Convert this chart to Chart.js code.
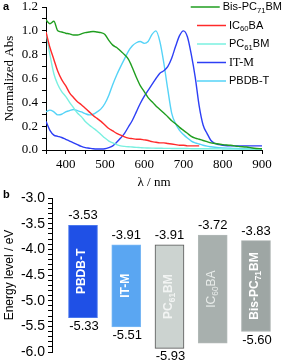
<!DOCTYPE html>
<html>
<head>
<meta charset="utf-8">
<script src="https://cdn.jsdelivr.net/npm/chart.js@4.4.1/dist/chart.umd.min.js"></script>
<style>
  body { margin: 0; width: 283px; height: 360px; background: #fff; position: relative; overflow: hidden; }
  #topo { position: absolute; left: 0; top: 0; width: 283px; height: 190px; }
  #base { position: absolute; left: 0; top: 190px; width: 283px; height: 170px; }
  .painel { position: absolute; font: bold 11px "Liberation Sans", Arial, sans-serif; color: #000; }
</style>
</head>
<body>
<div id="topo"><canvas id="espectros" width="283" height="190"></canvas></div>
<div id="base"><canvas id="niveis" width="283" height="170"></canvas></div>
<div class="painel" style="left:3px;top:0px">a</div>
<div class="painel" style="left:3px;top:188px">b</div>
<script>
// Painel a: absorção normalizada
const comprimentos = [350, 360, 370, 380, 390, 400, 410, 420, 430, 440, 450, 460, 470, 480, 490, 500,
    510, 520, 530, 540, 550, 560, 570, 580, 590, 600, 610, 620, 630, 640, 650, 660, 670, 680, 690, 700,
    710, 720, 730, 740, 750, 760, 770, 780, 790, 800, 820, 840, 860, 880, 900];

const bisPC71BM = [1.09, 1.06, 1.08, 1.00, 0.99, 0.98, 0.975, 0.965, 0.965, 0.975, 0.985, 0.99, 0.995, 0.99, 0.985, 0.97,
    0.92, 0.88, 0.86, 0.83, 0.80, 0.76, 0.69, 0.61, 0.54, 0.49, 0.44, 0.405, 0.37, 0.34, 0.31, 0.28, 0.245, 0.22, 0.19, 0.165,
    0.14, 0.115, 0.10, 0.09, 0.08, 0.07, 0.06, 0.055, 0.05, 0.045, 0.04, 0.03, 0.025, 0.015, 0.01];

const ic60ba = [0.99, 0.86, 0.76, 0.66, 0.59, 0.54, 0.48, 0.44, 0.405, 0.38, 0.35, 0.32, 0.29, 0.265, 0.24, 0.21,
    0.18, 0.16, 0.14, 0.125, 0.11, 0.10, 0.095, 0.09, 0.09, 0.085, 0.08, 0.07, 0.065, 0.06, 0.06, 0.055, 0.05, 0.045, 0.04, 0.04,
    0.035, 0.035, 0.035, 0.035, null, null, null, null, null, null, null, null, null, null, null];

const pc61bm = [0.99, 0.80, 0.64, 0.55, 0.49, 0.45, 0.40, 0.355, 0.31, 0.28, 0.24, 0.21, 0.185, 0.16, 0.13, 0.10,
    0.075, 0.06, 0.045, 0.035, 0.03, 0.027, 0.025, 0.022, 0.02, 0.018, 0.017, 0.016, 0.015, 0.015, 0.014, 0.014, 0.013, 0.013, 0.012, 0.012,
    0.012, 0.011, 0.011, 0.011, 0.01, 0.01, 0.01, 0.01, 0.01, 0.009, 0.008, 0.007, 0.006, 0.005, 0.004];

const itm = [0.24, 0.165, 0.125, 0.115, 0.105, 0.09, 0.075, 0.06, 0.045, 0.03, 0.02, 0.015, 0.01, 0.008, 0.008, 0.01,
    0.02, 0.035, 0.065, 0.10, 0.14, 0.195, 0.25, 0.32, 0.39, 0.45, 0.50, 0.55, 0.60, 0.645, 0.665, 0.70, 0.77, 0.87, 0.96, 1.0,
    0.95, 0.80, 0.61, 0.37, 0.21, 0.14, 0.08, 0.055, 0.045, 0.04, 0.035, 0.035, 0.035, 0.035, 0.035];

const pbdbt = [0.32, 0.335, 0.32, 0.295, 0.30, 0.32, 0.33, 0.34, 0.33, 0.32, 0.305, 0.295, 0.30, 0.32, 0.345, 0.39,
    0.46, 0.55, 0.63, 0.70, 0.765, 0.83, 0.875, 0.90, 0.91, 0.895, 0.91, 0.97, 1.0, 0.91, 0.73, 0.51, 0.31, 0.22, 0.165, 0.13,
    0.10, 0.075, 0.06, 0.05, 0.04, 0.032, 0.027, 0.023, 0.02, 0.018, 0.015, 0.012, 0.01, 0.008, 0.007];

const nomesSeries = ['Bis-PC_{71}BM', 'IC_{60}BA', 'PC_{61}BM', 'IT-M', 'PBDB-T'];
const valoresSeries = [bisPC71BM, ic60ba, pc61bm, itm, pbdbt];
const coresSeries = ['#1f9e1f', '#ff2a2a', '#7af0e0', '#2d3ff5', '#55d3f7'];

// Painel b: níveis de energia
const materiais = ['PBDB-T', 'IT-M', 'PC_{61}BM', 'IC_{60}BA', 'Bis-PC_{71}BM'];
const lumo = [-3.53, -3.91, -3.91, -3.72, -3.83];
const homo = [-5.33, -5.51, -5.93, -5.83, -5.60];
const homoVisivel = [true, true, true, false, true];

const coresBarras = ['#1f50e6', '#5aa6f2', '#ccd3d0', '#a8b0ae', '#9ea6a4'];
const bordasBarras = ['#4a78ee', '#7ab8f5', '#555555', '#b2b9b7', '#a9b0ae'];
const coresNomes = ['#ffffff', '#ffffff', '#f2f4f3', '#e8ecea', '#ffffff'];
const pesosNomes = ['bold', 'bold', 'bold', 'normal', 'bold'];

const SANS = '"Liberation Sans", Arial, sans-serif';
const SERIF = '"Liberation Serif", "Times New Roman", serif';

Chart.defaults.color = '#000';
Chart.defaults.font.family = SANS;

// texto com subscritos: PC_{61}BM
function medirTexto(ctx, texto, tam, familia, peso) {
    const partes = texto.split(/_\{(\d+)\}/);
    let w = 0;
    partes.forEach((p, i) => {
        ctx.font = `${peso} ${i % 2 ? tam * 0.7 : tam}px ${familia}`;
        w += ctx.measureText(p).width;
    });
    return w;
}

function desenharTexto(ctx, texto, x, y, tam, familia, peso) {
    const partes = texto.split(/_\{(\d+)\}/);
    let cx = x;
    partes.forEach((p, i) => {
        const sub = i % 2 === 1;
        ctx.font = `${peso} ${sub ? tam * 0.7 : tam}px ${familia}`;
        ctx.fillText(p, cx, y + (sub ? tam * 0.35 : 0));
        cx += ctx.measureText(p).width;
    });
}

const legendaPlugin = {
    id: 'legenda',
    afterDraw(chart) {
        const ctx = chart.ctx;
        ctx.save();
        ctx.textBaseline = 'middle';
        chart.data.datasets.forEach((ds, i) => {
            const y = 7 + i * 18.5;
            const familia = ds.label === 'IT-M' ? SERIF : SANS;
            const tam = ds.label === 'IT-M' ? 12 : 11;
            const w = medirTexto(ctx, ds.label, tam, familia, 'normal');
            const tx = Math.min(229, 282 - w);
            ctx.strokeStyle = ds.borderColor;
            ctx.lineWidth = 1.5;
            ctx.beginPath();
            ctx.moveTo(tx - 32, y);
            ctx.lineTo(tx - 3, y);
            ctx.stroke();
            ctx.fillStyle = '#000';
            desenharTexto(ctx, ds.label, tx, y, tam, familia, 'normal');
        });
        ctx.restore();
    }
};

const rotulosPlugin = {
    id: 'rotulos',
    afterDatasetsDraw(chart) {
        const ctx = chart.ctx;
        const meta = chart.getDatasetMeta(0);
        meta.data.forEach((barra, i) => {
            const topo = Math.min(barra.y, barra.base);
            const fundo = Math.max(barra.y, barra.base);
            ctx.save();
            ctx.fillStyle = '#000';
            ctx.font = `13px ${SANS}`;
            ctx.textAlign = 'center';
            ctx.textBaseline = 'alphabetic';
            ctx.fillText(lumo[i].toFixed(2), barra.x, topo - 6);
            if (homoVisivel[i]) {
                ctx.textBaseline = 'top';
                ctx.fillText(homo[i].toFixed(2), barra.x + 1, fundo + 2);
            }
            // nome do material, vertical
            ctx.translate(barra.x, (topo + fundo) / 2);
            ctx.rotate(-Math.PI / 2);
            ctx.textAlign = 'left';
            ctx.textBaseline = 'middle';
            ctx.fillStyle = coresNomes[i];
            const w = medirTexto(ctx, materiais[i], 12, SANS, pesosNomes[i]);
            desenharTexto(ctx, materiais[i], -w / 2, -1, 12, SANS, pesosNomes[i]);
            ctx.restore();
        });
    }
};

new Chart(document.getElementById('espectros').getContext('2d'), {
    type: 'line',
    data: {
        datasets: nomesSeries.map((nome, k) => ({
            label: nome,
            data: comprimentos.map((w, i) => ({ x: w, y: valoresSeries[k][i] })).filter(p => p.y !== null),
            borderColor: coresSeries[k],
            borderWidth: 1.4,
            pointRadius: 0,
            fill: false,
            cubicInterpolationMode: 'monotone'
        }))
    },
    options: {
        responsive: false,
        animation: false,
        devicePixelRatio: 1,
        layout: { padding: { top: 7, right: 21, bottom: 0, left: 0 } },
        plugins: { legend: { display: false }, tooltip: { enabled: false } },
        scales: {
            x: {
                type: 'linear',
                min: 350,
                max: 900,
                border: { color: '#000', width: 1 },
                grid: { drawOnChartArea: false, tickLength: 4, color: '#000' },
                ticks: {
                    stepSize: 50,
                    autoSkip: false,
                    maxRotation: 0,
                    padding: 3,
                    font: { family: SERIF, size: 13 },
                    callback: v => (v % 100 === 0 && v >= 400) ? String(v) : ''
                },
                title: { display: true, text: 'λ / nm', font: { family: SERIF, size: 13 }, padding: 0 },
                afterFit(scale) { scale.height = 40; }
            },
            y: {
                min: 0,
                max: 1.2,
                border: { color: '#000', width: 1 },
                grid: { drawOnChartArea: false, tickLength: 4, color: '#000' },
                ticks: {
                    stepSize: 0.1,
                    autoSkip: false,
                    padding: 4,
                    font: { family: SERIF, size: 13 },
                    callback: v => Math.round(v * 10) % 2 === 0 ? v.toFixed(1) : ''
                },
                title: { display: true, text: 'Normalized Abs', font: { family: SERIF, size: 13 }, padding: { top: 2, bottom: 0 } },
                afterFit(scale) {
                    scale.width = 46;
                    scale.paddingTop = 0;
                    scale.paddingBottom = 0;
                }
            }
        }
    },
    plugins: [legendaPlugin]
});

new Chart(document.getElementById('niveis').getContext('2d'), {
    type: 'bar',
    data: {
        datasets: [{
            label: 'Energy level',
            data: materiais.map((m, i) => ({ x: i + 1, y: [homo[i], lumo[i]] })),
            backgroundColor: coresBarras,
            borderColor: bordasBarras,
            borderWidth: 1,
            borderSkipped: false,
            barThickness: 29
        }]
    },
    options: {
        responsive: false,
        animation: false,
        devicePixelRatio: 1,
        layout: { padding: { top: 8, right: 0, bottom: 8, left: 0 } },
        plugins: { legend: { display: false }, tooltip: { enabled: false } },
        scales: {
            x: { type: 'linear', display: false, offset: false, min: 0.283, max: 5.625 },
            y: {
                min: -6,
                max: -3,
                border: { color: '#000', width: 1 },
                grid: { drawOnChartArea: false, tickLength: 4, color: '#000' },
                ticks: {
                    stepSize: 0.1,
                    autoSkip: false,
                    padding: 3,
                    font: { family: SANS, size: 14 },
                    callback: v => Math.round(v * 10) % 5 === 0 ? v.toFixed(1) : ''
                },
                title: { display: true, text: 'Energy level / eV', font: { family: SANS, size: 12 }, padding: { top: 2, bottom: 0 } },
                afterFit(scale) {
                    scale.width = 52;
                    scale.paddingTop = 0;
                    scale.paddingBottom = 0;
                }
            }
        }
    },
    plugins: [rotulosPlugin]
});
</script>
</body>
</html>
